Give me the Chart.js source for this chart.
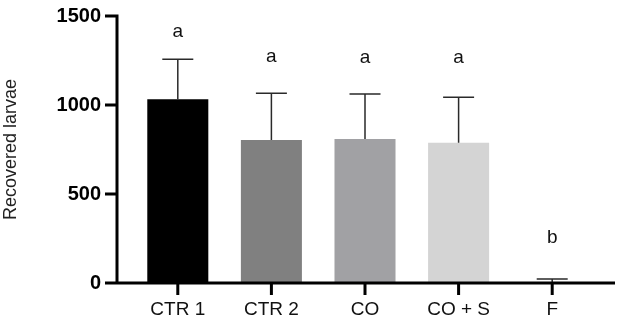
<!DOCTYPE html>
<html>
<head>
<meta charset="utf-8">
<script src="https://cdn.jsdelivr.net/npm/chart.js@4"></script>
<style>
html, body { margin: 0; padding: 0; background: #fff; }
</style>
</head>
<body>
<canvas id="chart" width="630" height="323"></canvas>
<script>
// Data (mean + SD)
const groups = ['CTR 1', 'CTR 2', 'CO', 'CO + S', 'F'];
const means = [1032, 803, 809, 788, 4];
const sds = [225, 263, 253, 255, 18];
const letters = ['a', 'a', 'a', 'a', 'b'];
const letterLevels = [1414, 1270, 1268, 1268, 253];
const yTicks = [0, 500, 1000, 1500];
const barColors = ['#000000', '#808080', '#a1a1a4', '#d4d4d4', '#000000'];

const FONT = "Arial, 'Liberation Sans', sans-serif";

// error bars (upper only) + significance letters
const errorBars = {
    id: 'errorBars',
    afterDatasetsDraw(chart) {
        const ctx = chart.ctx;
        const x = chart.scales.x, y = chart.scales.y;
        ctx.save();
        ctx.strokeStyle = '#2a2a2a';
        ctx.lineWidth = 1.5;
        means.forEach((m, i) => {
            const px = x.getPixelForValue(i);
            const top = y.getPixelForValue(m + sds[i]);
            const base = y.getPixelForValue(m);
            ctx.beginPath();
            ctx.moveTo(px, base);
            ctx.lineTo(px, top);
            ctx.moveTo(px - 15.5, top);
            ctx.lineTo(px + 15.5, top);
            ctx.stroke();
        });
        ctx.fillStyle = '#111';
        ctx.font = '19px ' + FONT;
        ctx.textAlign = 'center';
        ctx.textBaseline = 'middle';
        letters.forEach((l, i) => {
            ctx.fillText(l, x.getPixelForValue(i), y.getPixelForValue(letterLevels[i]));
        });
        ctx.restore();
    }
};

// GraphPad-style axes: y axis set off from the first bar
const axes = {
    id: 'axes',
    afterDatasetsDraw(chart) {
        const ctx = chart.ctx;
        const x = chart.scales.x, y = chart.scales.y;
        const ax = chart.chartArea.left - 14;
        const y0 = y.getPixelForValue(0);
        const yTop = y.getPixelForValue(yTicks[yTicks.length - 1]);
        ctx.save();
        ctx.strokeStyle = '#000';
        ctx.lineWidth = 3;
        ctx.beginPath();
        ctx.moveTo(ax, yTop - 1.5);
        ctx.lineTo(ax, y0);
        ctx.moveTo(ax - 1.5, y0);
        ctx.lineTo(chart.chartArea.right + 16, y0);
        yTicks.forEach(v => {
            const p = y.getPixelForValue(v);
            ctx.moveTo(ax - 12, p);
            ctx.lineTo(ax, p);
        });
        groups.forEach((g, i) => {
            const p = x.getPixelForValue(i);
            ctx.moveTo(p, y0);
            ctx.lineTo(p, y0 + 12);
        });
        ctx.stroke();
        ctx.restore();
    }
};

new Chart(document.getElementById('chart'), {
    type: 'bar',
    data: {
        labels: groups,
        datasets: [{
            data: means,
            backgroundColor: barColors,
            borderWidth: 0,
            categoryPercentage: 1,
            barPercentage: 0.652
        }]
    },
    options: {
        responsive: false,
        animation: false,
        layout: { padding: { top: 16, right: 31, left: 0, bottom: 0 } },
        plugins: {
            legend: { display: false },
            tooltip: { enabled: false }
        },
        scales: {
            x: {
                grid: { display: false, drawTicks: false },
                border: { display: false },
                ticks: {
                    color: '#111',
                    font: { family: FONT, size: 19 },
                    padding: 15
                },
                afterFit(scale) {
                    scale.height = 40;
                    scale.paddingLeft = 0;
                    scale.paddingRight = 0;
                }
            },
            y: {
                min: 0,
                max: 1500,
                grid: { display: false, drawTicks: false },
                border: { display: false },
                afterBuildTicks(scale) { scale.ticks = yTicks.map(v => ({ value: v })); },
                ticks: {
                    color: '#000',
                    font: { family: FONT, size: 20, weight: 'bold' },
                    padding: 30,
                    callback: v => String(v)
                },
                title: {
                    display: true,
                    text: 'Recovered larvae',
                    color: '#222',
                    font: { family: FONT, size: 18 },
                    padding: 0
                },
                afterFit(scale) {
                    scale.width = 131;
                    scale.paddingTop = 0;
                    scale.paddingBottom = 0;
                }
            }
        }
    },
    plugins: [errorBars, axes]
});
</script>
</body>
</html>
